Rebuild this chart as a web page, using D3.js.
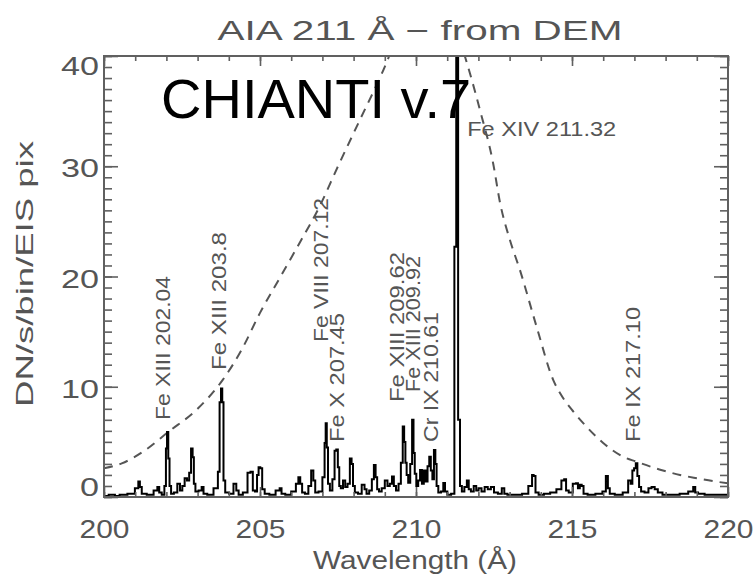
<!DOCTYPE html>
<html><head><meta charset="utf-8">
<script src="https://cdn.jsdelivr.net/npm/d3@7"></script>
<style>
html,body{margin:0;padding:0;background:#fff;}
svg{display:block;}
</style></head>
<body>
<script>
// ---------------- data ----------------
const xDomain = [200, 220];
const yDomain = [0, 40];
const xTickValues = [200, 205, 210, 215, 220];
const yTickValues = [0, 10, 20, 30, 40];

// EIS spectrum (wavelength in Å, DN/s/bin/EIS pix)
const specWave = [
200.00,200.30,200.40,200.60,200.90,201.08,201.12,201.18,201.24,201.50,201.68,201.74,201.80,201.90,201.97,
202.00,202.04,202.08,202.12,202.18,202.30,202.40,202.47,202.55,202.62,202.70,202.76,202.82,202.86,202.90,
202.96,203.10,203.16,203.22,203.40,203.62,203.68,203.73,203.77,203.81,203.85,203.92,204.10,204.20,204.28,
204.35,204.55,204.65,204.74,204.80,204.88,204.93,204.98,205.04,205.10,205.20,205.40,205.60,205.66,205.72,
205.90,206.10,206.20,206.26,206.32,206.38,206.50,206.60,206.68,206.74,206.80,206.95,207.05,207.09,207.12,
207.16,207.20,207.28,207.36,207.42,207.47,207.52,207.56,207.62,207.70,207.76,207.85,207.91,207.96,208.00,
208.08,208.20,208.32,208.38,208.45,208.55,208.62,208.68,208.73,208.78,208.85,208.95,209.05,209.12,209.20,
209.26,209.32,209.40,209.48,209.55,209.60,209.64,209.68,209.72,209.78,209.85,209.90,209.94,209.98,210.04,
210.10,210.16,210.22,210.28,210.34,210.40,210.45,210.50,210.55,210.60,210.64,210.68,210.75,210.85,210.90,
210.96,211.05,211.20,211.26,211.32,211.38,211.44,211.50,211.60,211.66,211.72,211.80,211.90,211.96,212.05,
212.15,212.25,212.35,212.45,212.55,212.70,212.80,212.86,213.00,213.30,213.50,213.70,213.74,213.80,213.86,
214.00,214.20,214.40,214.60,214.72,214.78,214.84,214.95,215.10,215.16,215.22,215.28,215.34,215.40,215.60,
215.90,216.05,216.12,216.18,216.24,216.50,216.75,216.85,216.91,216.96,217.02,217.07,217.12,217.18,217.25,
217.40,217.50,217.60,217.70,217.80,218.00,218.30,218.60,218.85,218.92,218.98,219.10,219.40,219.70,220.00];
const specFlux = [
0.1,0.2,0.1,0.2,0.3,0.8,1.4,0.9,0.3,0.2,0.6,0.9,0.4,0.2,1.0,
4.4,5.9,3.5,1.0,0.3,0.4,1.2,0.6,1.0,1.7,1.5,2.2,4.4,3.6,1.2,
0.5,0.6,0.9,0.3,0.2,0.8,2.3,8.6,9.85,8.6,1.5,0.4,0.3,1.2,0.6,
0.2,0.4,2.2,2.3,0.6,0.5,2.0,2.7,2.6,0.7,0.3,0.2,0.6,0.8,0.3,
0.2,0.5,1.2,1.8,1.2,0.4,0.3,1.0,2.4,1.5,0.4,0.5,1.8,4.9,6.7,
4.5,1.2,0.6,1.6,4.2,4.3,2.7,1.0,0.8,1.5,0.9,1.2,3.5,3.0,1.0,
0.4,0.3,1.1,0.7,0.3,0.6,1.6,2.9,1.8,0.7,0.5,0.8,1.5,1.0,1.2,
1.85,1.0,0.6,1.2,3.1,6.4,5.0,3.1,2.0,1.3,3.0,7.0,4.0,2.1,1.0,
1.5,2.45,1.2,2.4,1.4,2.8,3.65,2.4,1.6,4.26,3.0,1.0,0.4,0.5,1.27,
0.5,0.2,0.3,22.7,48,7.0,1.0,0.5,0.9,1.5,0.7,0.5,1.0,0.6,0.8,
0.5,0.9,0.7,0.9,0.4,0.3,0.8,0.3,0.2,0.2,0.3,1.0,2.0,1.9,0.4,
0.2,0.3,0.4,0.7,1.5,1.6,0.6,0.4,1.2,1.25,0.8,1.1,1.0,0.3,0.2,
0.3,0.5,1.9,0.8,0.3,0.2,0.4,1.5,1.2,2.4,2.6,3.05,1.9,0.9,0.5,
0.4,0.8,0.9,0.7,0.4,0.2,0.2,0.3,0.5,0.9,0.4,0.3,0.2,0.2,0.2];

// AIA 211 response (scaled) - dashed curve
const respWave = [200.0,200.57,201.3,202.06,203.0,203.8,204.4,205.0,205.7,206.3,206.9,207.5,208.2,208.95,209.5,210.0,210.5,211.0,211.4,211.67,212.05,212.47,212.7,213.0,213.33,213.87,214.4,214.62,215.0,215.36,216.0,216.64,217.07,217.8,218.46,219.0,219.63,220.0];
const respFlux = [2.6,3.05,4.2,5.9,8.0,10.6,13.3,16.7,20.2,23.2,26.3,30.0,34.2,38.7,42.5,45.5,47.0,45.0,41.5,39.0,35.1,30.3,26.6,23.4,20.6,15.4,10.6,9.4,7.9,6.7,4.9,3.65,3.2,2.5,2.0,1.7,1.39,1.25];

// line identifications
const lineLabels = ["Fe XIII 202.04","Fe XIII 203.8","Fe VIII 207.12","Fe X 207.45","Fe XIII 209.62","Fe XIII 209.92","Cr IX 210.61","Fe IX 217.10"];
const lineWaves  = [202.04, 203.8, 207.12, 207.45, 209.62, 209.92, 210.61, 217.10];
const mainLabel = "Fe XIV 211.32";
const mainWave = 211.32;

const titleText = "AIA 211 Å − from DEM";
const xTitle = "Wavelength (Å)";
const yTitle = "DN/s/bin/EIS pix";
const noteText = "CHIANTI v.7";

// ---------------- layout ----------------
const W = 756, H = 581;
const plot = {left:104, right:728, top:56, bottom:497};
const labelLayout = [
  {dx:2.5, y0:420, y1:276},
  {dx:3,   y0:370, y1:232},
  {dx:2,   y0:342, y1:198},
  {dx:8,   y0:442, y1:313},
  {dx:0,   y0:402, y1:252},
  {dx:6,   y0:392, y1:256},
  {dx:3,   y0:442, y1:312},
  {dx:2.5, y0:442, y1:307}
];
const grey = "#555";
const axisGrey = "#606060";
const font = "'Liberation Sans', Arial, sans-serif";

const svg = d3.select("body").append("svg").attr("width", W).attr("height", H);

const x = d3.scaleLinear().domain(xDomain).range([plot.left, plot.right]);
const y = d3.scaleLinear().domain(yDomain).range([plot.bottom, plot.top]);

svg.append("defs").append("clipPath").attr("id","clip")
  .append("rect").attr("x",plot.left).attr("y",plot.top)
  .attr("width",plot.right-plot.left).attr("height",plot.bottom-plot.top);

// response curve
const respData = respWave.map((w,i)=>[w, respFlux[i]]);
svg.append("path").datum(respData)
  .attr("clip-path","url(#clip)")
  .attr("fill","none").attr("stroke","#555").attr("stroke-width",2)
  .attr("stroke-dasharray","9,7")
  .attr("d", d3.line().x(d=>x(d[0])).y(d=>y(d[1])).curve(d3.curveMonotoneX));

// spectrum
const specData = specWave.map((w,i)=>[w, specFlux[i]]);
svg.append("path").datum(specData)
  .attr("clip-path","url(#clip)")
  .attr("fill","none").attr("stroke","#000").attr("stroke-width",2)
  .attr("d", d3.line().x(d=>x(d[0])).y(d=>y(d[1])).curve(d3.curveStep));

// ticks (inward) on all four sides
function tickAxis(gen, tr){
  const g = svg.append("g").attr("transform", tr).call(gen);
  g.select(".domain").remove();
  g.selectAll("text").remove();
  g.selectAll("line").attr("stroke", axisGrey).attr("stroke-width",1.6);
  return g;
}
const xMinor = d3.range(200, 221, 1);
const yMinor = d3.range(0, 41, 1);
tickAxis(d3.axisBottom(x).tickValues(xMinor).tickSize(-5), `translate(0,${plot.bottom})`);
tickAxis(d3.axisBottom(x).tickValues(xTickValues).tickSize(-10), `translate(0,${plot.bottom})`);
tickAxis(d3.axisTop(x).tickValues(xMinor).tickSize(-5), `translate(0,${plot.top})`);
tickAxis(d3.axisTop(x).tickValues(xTickValues).tickSize(-10), `translate(0,${plot.top})`);
tickAxis(d3.axisLeft(y).tickValues(yMinor).tickSize(-8), `translate(${plot.left},0)`);
tickAxis(d3.axisLeft(y).tickValues(yTickValues).tickSize(-14), `translate(${plot.left},0)`);
tickAxis(d3.axisRight(y).tickValues(yMinor).tickSize(-8), `translate(${plot.right},0)`);
tickAxis(d3.axisRight(y).tickValues(yTickValues).tickSize(-14), `translate(${plot.right},0)`);

// frame
svg.append("rect").attr("x",plot.left).attr("y",plot.top)
  .attr("width",plot.right-plot.left).attr("height",plot.bottom-plot.top)
  .attr("fill","none").attr("stroke",axisGrey).attr("stroke-width",2);

// tick labels
const gx = svg.append("g").attr("transform",`translate(0,${plot.bottom})`)
  .call(d3.axisBottom(x).tickValues(xTickValues).tickSize(0).tickPadding(23).tickFormat(d3.format("d")));
gx.select(".domain").remove();
gx.selectAll("text").attr("font-family",font).attr("font-size",25).attr("fill",grey)
  .attr("textLength",50).attr("lengthAdjust","spacingAndGlyphs");

const gy = svg.append("g").attr("transform",`translate(${plot.left},0)`)
  .call(d3.axisLeft(y).tickValues(yTickValues).tickSize(0).tickPadding(5).tickFormat(d3.format("d")));
gy.select(".domain").remove();
gy.selectAll("text").attr("font-family",font).attr("font-size",25).attr("fill",grey)
  .attr("textLength", d => String(d).length*19).attr("lengthAdjust","spacingAndGlyphs")
  .attr("dy", d => d===yDomain[1] ? "0.72em" : d===yDomain[0] ? "-0.05em" : "0.42em");

// title
svg.append("text").attr("x",420).attr("y",40).attr("text-anchor","middle")
  .attr("font-family",font).attr("font-size",27).attr("fill",grey)
  .attr("textLength",405).attr("lengthAdjust","spacingAndGlyphs").text(titleText);

// x title
svg.append("text").attr("x",415).attr("y",569).attr("text-anchor","middle")
  .attr("font-family",font).attr("font-size",25).attr("fill",grey)
  .attr("textLength",204).attr("lengthAdjust","spacingAndGlyphs").text(xTitle);

// y title
svg.append("text").attr("transform","translate(33,274) rotate(-90)").attr("text-anchor","middle")
  .attr("font-family",font).attr("font-size",24).attr("fill",grey)
  .attr("textLength",266).attr("lengthAdjust","spacingAndGlyphs").text(yTitle);

// line labels (rotated)
lineLabels.forEach((t,i)=>{
  const L = labelLayout[i];
  svg.append("text")
    .attr("transform",`translate(${x(lineWaves[i])+L.dx},${L.y0}) rotate(-90)`)
    .attr("font-family",font).attr("font-size",20).attr("fill",grey)
    .attr("textLength",L.y0-L.y1).attr("lengthAdjust","spacingAndGlyphs")
    .text(t);
});

// main line label
svg.append("text").attr("x",x(mainWave)+10).attr("y",136)
  .attr("font-family",font).attr("font-size",20).attr("fill",grey)
  .attr("textLength",149).attr("lengthAdjust","spacingAndGlyphs").text(mainLabel);

// CHIANTI note
svg.append("text").attr("x",161).attr("y",118)
  .attr("font-family","'Liberation Sans', Arial, sans-serif").attr("font-size",56).attr("fill","#000")
  .text(noteText);
</script>
</body></html>
